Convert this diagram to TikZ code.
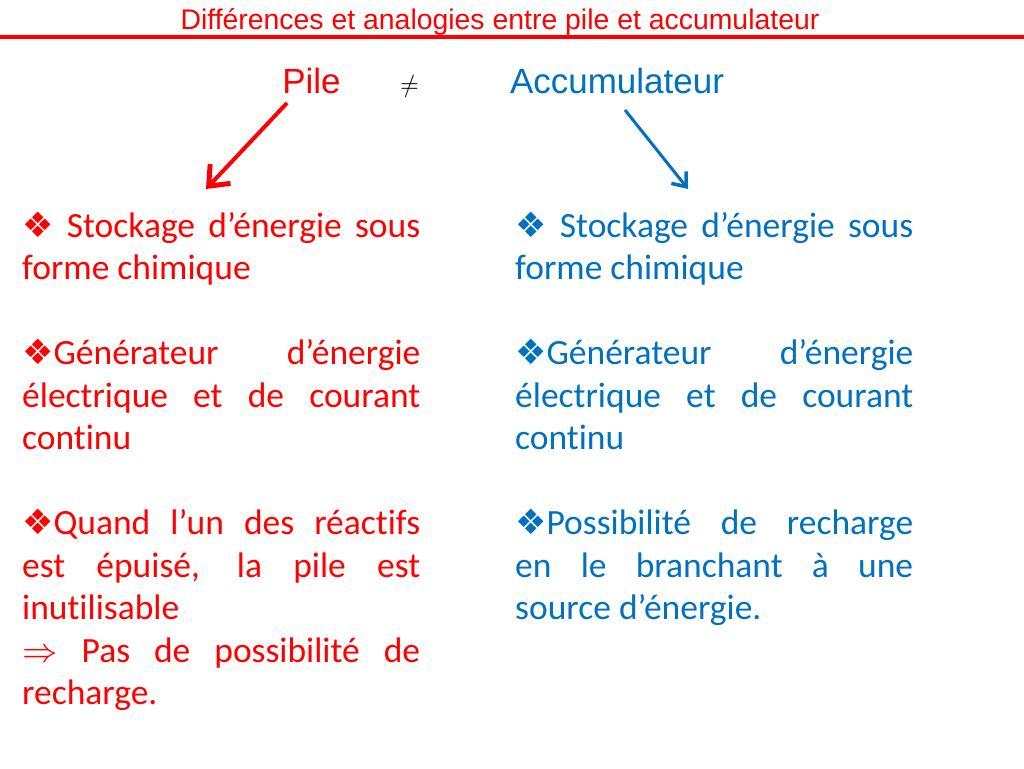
\documentclass[tikz,border=0pt]{standalone}
\usepackage{unicode-math}
\setmathfont{Latin Modern Math}
\setmainfont[Ligatures=NoCommon]{Carlito}
\newfontfamily\headfont{Liberation Sans}
\newfontfamily\symfont{DejaVu Sans}
\usetikzlibrary{arrows.meta}
\definecolor{pilered}{RGB}{255,0,0}
\definecolor{accblue}{RGB}{0,112,192}
\newcommand{\puce}{{\symfont\fontsize{35}{35}\selectfont ❖}}
\hyphenpenalty=10000
\exhyphenpenalty=10000

\begin{document}
\begin{tikzpicture}[x=1pt, y=-1pt,
                    body/.style={text width=398pt, align=justify, inner sep=0pt, anchor=base west,
                                 font=\fontsize{35.5}{42.6}\selectfont},
                    head/.style={inner sep=0pt, anchor=base, font=\headfont\fontsize{35}{40}\selectfont}]
                        \useasboundingbox (0,0) rectangle (1024,768);
                        % Title:
                    	\node [inner sep=0pt, anchor=base, text=pilered, font=\headfont\fontsize{28.4}{32}\selectfont] (title) at (500,29.5)
                    	      {Différences et analogies entre pile et accumulateur};
                    	\draw [pilered, line width=4pt] (0,37) -- (1024,37);

                        % Headings:
                    	\node [head, text=pilered] (pile) at (311.5,93) {Pile};
                    	\node [head, font=\fontsize{24}{24}\selectfont] (neq) at (410,92) {$\neq$};
                    	\node [head, text=accblue] (acc) at (617,93) {Accumulateur};

                        \coordinate (pileend) at (206,189);
                        \coordinate (accend) at (688,189);
                    	\draw [pilered, line width=4pt, -{Straight Barb[length=17pt, width=28pt, line width=5pt]}] (287,103) -- (pileend);
                    	\draw [accblue, line width=3pt, -{Straight Barb[length=12pt, width=19pt, line width=3.5pt]}] (625,110) -- (accend);

                        % Pile column:
                    	\node [body, text=pilered] (pileA) at (22,237) {\puce\ Stockage d’énergie sous\linebreak forme chimique};
                    	\node [body, text=pilered] (pileB) at (22,364.5) {\puce Générateur d’énergie\linebreak électrique et de courant\linebreak continu};
                    	\node [body, text=pilered] (pileC) at (22,534.5) {\puce Quand l’un des réactifs\linebreak est épuisé, la pile est\linebreak inutilisable\par
                    	      $\Rightarrow$ Pas de possibilité de\linebreak recharge.};

                        % Accumulateur column:
                    	\node [body, text=accblue] (accA) at (515,237) {\puce\ Stockage d’énergie sous\linebreak forme chimique};
                    	\node [body, text=accblue] (accB) at (515,364.5) {\puce Générateur d’énergie\linebreak électrique et de courant\linebreak continu};
                    	\node [body, text=accblue] (accC) at (515,534.5) {\puce Possibilité de recharge\linebreak en le branchant à une\linebreak source d’énergie.};
                    \end{tikzpicture}
\end{document}
